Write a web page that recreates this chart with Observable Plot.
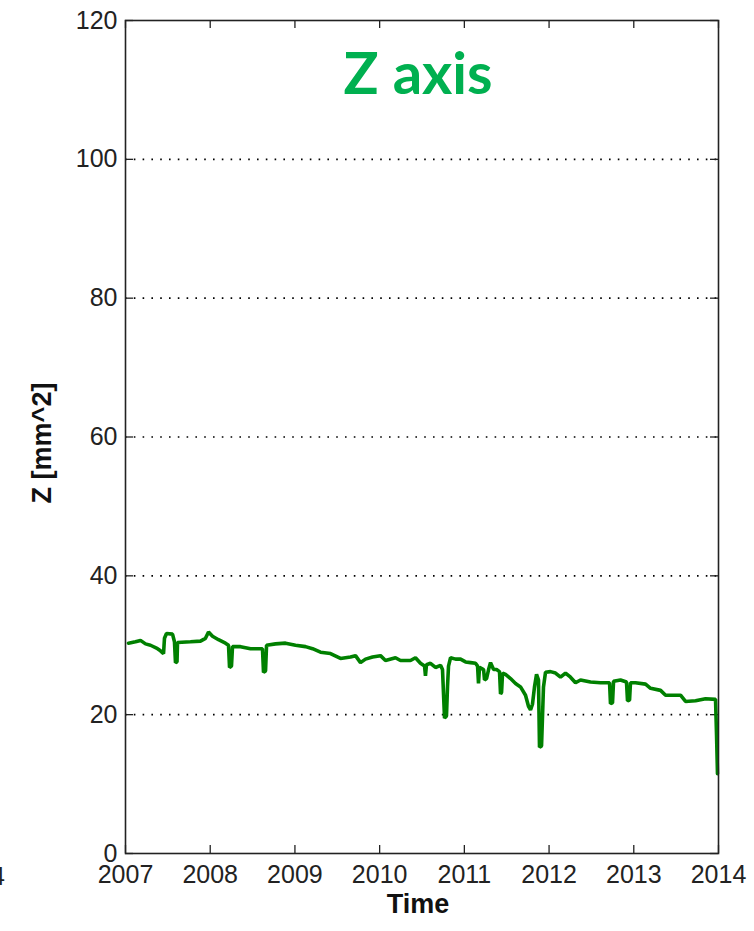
<!DOCTYPE html>
<html>
<head>
<meta charset="utf-8">
<script src="https://cdn.jsdelivr.net/npm/d3@7"></script>
<script src="https://cdn.jsdelivr.net/npm/@observablehq/plot@0.6"></script>
<style>
  html, body { margin: 0; padding: 0; background: #fff; }
  #wrap { position: relative; width: 754px; height: 931px; overflow: hidden; }
  #stray { position: absolute; right: 749px; top: 862px; font: 25px "Liberation Sans", Arial, sans-serif; color: #222; white-space: nowrap; }
</style>
</head>
<body>
<div id="wrap"><div id="stray">2014</div></div>
<script>
const times = [
  2007.035, 2007.118, 2007.177, 2007.236, 2007.295, 2007.378, 2007.413, 2007.449, 2007.460, 2007.484,
  2007.555, 2007.578, 2007.590, 2007.608, 2007.614, 2007.767, 2007.885, 2007.944, 2007.980, 2008.027,
  2008.098, 2008.180, 2008.216, 2008.228, 2008.251, 2008.263, 2008.358, 2008.476, 2008.617, 2008.629,
  2008.653, 2008.665, 2008.771, 2008.889, 2009.007, 2009.125, 2009.208, 2009.302, 2009.420, 2009.538,
  2009.656, 2009.715, 2009.774, 2009.833, 2009.916, 2010.010, 2010.069, 2010.187, 2010.246, 2010.364,
  2010.423, 2010.482, 2010.530, 2010.541, 2010.553, 2010.600, 2010.659, 2010.719, 2010.742, 2010.754,
  2010.766, 2010.789, 2010.801, 2010.813, 2010.837, 2010.896, 2010.955, 2011.014, 2011.073, 2011.132,
  2011.156, 2011.167, 2011.179, 2011.227, 2011.238, 2011.262, 2011.286, 2011.309, 2011.345, 2011.380,
  2011.415, 2011.427, 2011.439, 2011.451, 2011.486, 2011.545, 2011.604, 2011.663, 2011.722, 2011.757,
  2011.781, 2011.804, 2011.828, 2011.852, 2011.875, 2011.887, 2011.911, 2011.934, 2011.958, 2012.017,
  2012.076, 2012.135, 2012.194, 2012.253, 2012.312, 2012.371, 2012.489, 2012.607, 2012.714, 2012.725,
  2012.749, 2012.761, 2012.843, 2012.914, 2012.926, 2012.950, 2012.961, 2013.020, 2013.139, 2013.198,
  2013.316, 2013.375, 2013.493, 2013.552, 2013.611, 2013.729, 2013.847, 2013.965, 2013.977, 2013.988
];
const zValues = [
  30.3, 30.5, 30.7, 30.2, 30.0, 29.5, 29.2, 28.8, 31.0, 31.7,
  31.6, 30.5, 27.5, 27.6, 30.4, 30.5, 30.6, 31.0, 31.9, 31.3,
  30.8, 30.3, 30.0, 26.8, 27.0, 29.8, 29.8, 29.5, 29.5, 26.1,
  26.3, 30.0, 30.2, 30.3, 30.0, 29.8, 29.5, 29.0, 28.8, 28.1,
  28.3, 28.5, 27.5, 28.0, 28.3, 28.5, 27.8, 28.2, 27.8, 27.8,
  28.2, 27.4, 27.0, 25.6, 27.2, 27.4, 26.8, 27.1, 26.5, 23.0,
  19.5, 19.8, 24.0, 27.0, 28.2, 28.0, 28.0, 27.6, 27.5, 27.4,
  27.0, 24.5, 26.8, 26.5, 25.0, 25.2, 26.5, 27.5, 26.5, 26.5,
  26.2, 23.0, 23.2, 26.0, 25.8, 25.2, 24.5, 24.0, 22.8, 21.2,
  20.7, 21.5, 24.0, 25.8, 25.0, 15.3, 15.5, 24.0, 26.1, 26.2,
  26.0, 25.4, 26.0, 25.4, 24.6, 25.0, 24.7, 24.6, 24.6, 21.6,
  21.7, 24.8, 25.0, 24.7, 22.0, 22.1, 24.6, 24.6, 24.4, 23.8,
  23.5, 22.8, 22.8, 22.8, 21.9, 22.0, 22.3, 22.2, 17.0, 11.5
];
const xTicks = [2007, 2008, 2009, 2010, 2011, 2012, 2013, 2014];
const yTicks = [0, 20, 40, 60, 80, 100, 120];
const gridValues = [20, 40, 60, 80, 100];
const titleText = "Z axis";
const xLabel = "Time";
const yLabel = "Z [mm^2]";

const data = times.map((t, i) => ({t, z: zValues[i]}));

const W = 754, H = 931;
const mL = 125, mR = 36, mT = 20, mB = 78;
const tick = 8;
const tickY = 120 * tick / (H - mT - mB);
const tickX = 7 * tick / (W - mL - mR);

const chart = Plot.plot({
  width: W,
  height: H,
  marginLeft: mL,
  marginRight: mR,
  marginTop: mT,
  marginBottom: mB,
  style: {fontFamily: "'Liberation Sans', Arial, sans-serif", fontSize: "25px", color: "#222", background: "#fff"},
  x: {domain: [2007, 2014]},
  y: {domain: [0, 120]},
  marks: [
    Plot.gridY(gridValues, {stroke: "#000", strokeOpacity: 1, strokeWidth: 1.6, strokeDasharray: "1.6,7.2"}),
    Plot.ruleX(xTicks, {x: d => d, y1: 0, y2: tickY, stroke: "#222", strokeWidth: 1.3}),
    Plot.ruleX(xTicks, {x: d => d, y1: 120 - tickY, y2: 120, stroke: "#222", strokeWidth: 1.3}),
    Plot.ruleY(yTicks, {y: d => d, x1: 2007, x2: 2007 + tickX, stroke: "#222", strokeWidth: 1.3}),
    Plot.ruleY(yTicks, {y: d => d, x1: 2014 - tickX, x2: 2014, stroke: "#222", strokeWidth: 1.3}),
    Plot.axisX(xTicks, {tickSize: 0, tickPadding: 12, tickFormat: d => String(d), fontSize: 25, label: null}),
    Plot.axisY(yTicks, {tickSize: 0, tickPadding: 8, tickFormat: d => String(d), fontSize: 25, label: null}),
    Plot.line(data, {x: "t", y: "z", stroke: "#008000", strokeWidth: 3.6, strokeLinejoin: "miter"}),
    Plot.frame({stroke: "#222", strokeWidth: 1.6}),
    Plot.text([titleText], {text: d => d, frameAnchor: "top", dx: -4, dy: 32, fontSize: 58, fontWeight: "bold", fill: "#00b050", fontFamily: "Lato, 'Open Sans', sans-serif"}),
    Plot.text([xLabel], {text: d => d, frameAnchor: "bottom", dx: -4, dy: 59, fontSize: 27, fontWeight: "bold", fill: "#111"}),
    Plot.text([yLabel], {text: d => d, frameAnchor: "left", textAnchor: "middle", dx: -83, dy: 6, rotate: -90, fontSize: 27, fontWeight: "bold", fill: "#111"})
  ]
});
document.getElementById("wrap").appendChild(chart);
</script>
</body>
</html>
